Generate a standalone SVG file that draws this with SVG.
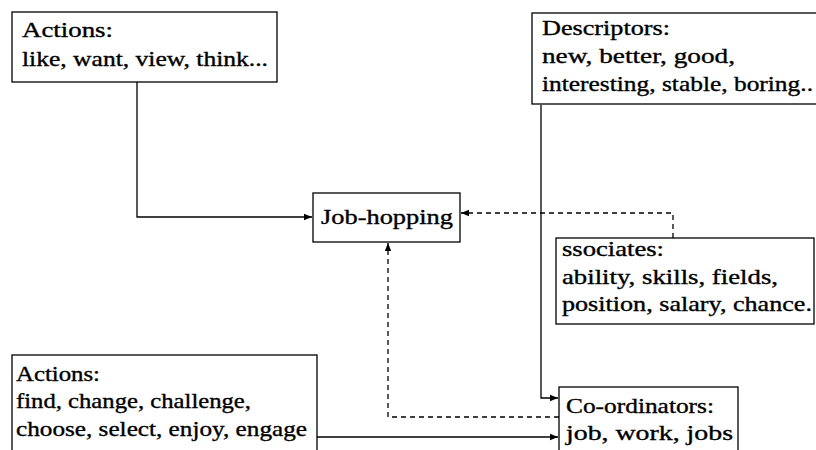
<svg xmlns="http://www.w3.org/2000/svg" width="816" height="450" viewBox="0 0 816 450">
<defs>
<style>
.box{fill:#fff;stroke:#000;stroke-width:1.3}
text{font-family:"Liberation Serif","Times New Roman",serif;font-size:21px;fill:#000;stroke:#000;stroke-width:0.35}
.c{fill:none;stroke:#000;stroke-width:1.3}
.d{stroke-dasharray:5,4}
</style>
<marker id="ah" viewBox="0 0 10 10" refX="10" refY="5" markerWidth="8" markerHeight="8" markerUnits="userSpaceOnUse" orient="auto">
<path d="M0,1 L10,5 L0,9 z" fill="#000"/>
</marker>
</defs>
<rect width="816" height="450" fill="#fff"/>
<g id="connectors">
<path class="c" d="M137 82 V217 H312" marker-end="url(#ah)"/>
<path class="c d" d="M673 238 V213 H461" marker-end="url(#ah)"/>
<path class="c" d="M541 105 V398 H558" marker-end="url(#ah)"/>
<path class="c d" d="M559 417 H388 V243" marker-end="url(#ah)"/>
<path class="c" d="M317 437 H558" marker-end="url(#ah)"/>
</g>
<g id="actions-top">
<rect class="box" x="12" y="12" width="265" height="70"/>
<text x="22" y="37" textLength="91" lengthAdjust="spacingAndGlyphs">Actions:</text>
<text x="22" y="66" textLength="246" lengthAdjust="spacingAndGlyphs">like, want, view, think...</text>
</g>
<g id="descriptors">
<rect class="box" x="532" y="13" width="300" height="91"/>
<text x="542" y="35" textLength="128" lengthAdjust="spacingAndGlyphs">Descriptors:</text>
<text x="542" y="63" textLength="193" lengthAdjust="spacingAndGlyphs">new, better, good,</text>
<text x="542" y="91" textLength="271" lengthAdjust="spacingAndGlyphs">interesting, stable, boring..</text>
</g>
<g id="job-hopping">
<rect class="box" x="313" y="193" width="147" height="49"/>
<text x="321" y="224" textLength="132" lengthAdjust="spacingAndGlyphs">Job-hopping</text>
</g>
<g id="associates">
<rect class="box" x="556" y="238" width="258" height="86"/>
<text x="562" y="256" textLength="102" lengthAdjust="spacingAndGlyphs">ssociates:</text>
<text x="562" y="284" textLength="216" lengthAdjust="spacingAndGlyphs">ability, skills, fields,</text>
<text x="562" y="311" textLength="250" lengthAdjust="spacingAndGlyphs">position, salary, chance.</text>
</g>
<g id="actions-bottom">
<rect class="box" x="12" y="355" width="305" height="110"/>
<text x="16" y="381" textLength="84" lengthAdjust="spacingAndGlyphs">Actions:</text>
<text x="16" y="408" textLength="235" lengthAdjust="spacingAndGlyphs">find, change, challenge,</text>
<text x="16" y="436" textLength="291" lengthAdjust="spacingAndGlyphs">choose, select, enjoy, engage</text>
</g>
<g id="coordinators">
<rect class="box" x="559" y="387" width="179" height="80"/>
<text x="566" y="413" textLength="148" lengthAdjust="spacingAndGlyphs">Co-ordinators:</text>
<text x="566" y="440" textLength="167" lengthAdjust="spacingAndGlyphs">job, work, jobs</text>
</g>
</svg>
